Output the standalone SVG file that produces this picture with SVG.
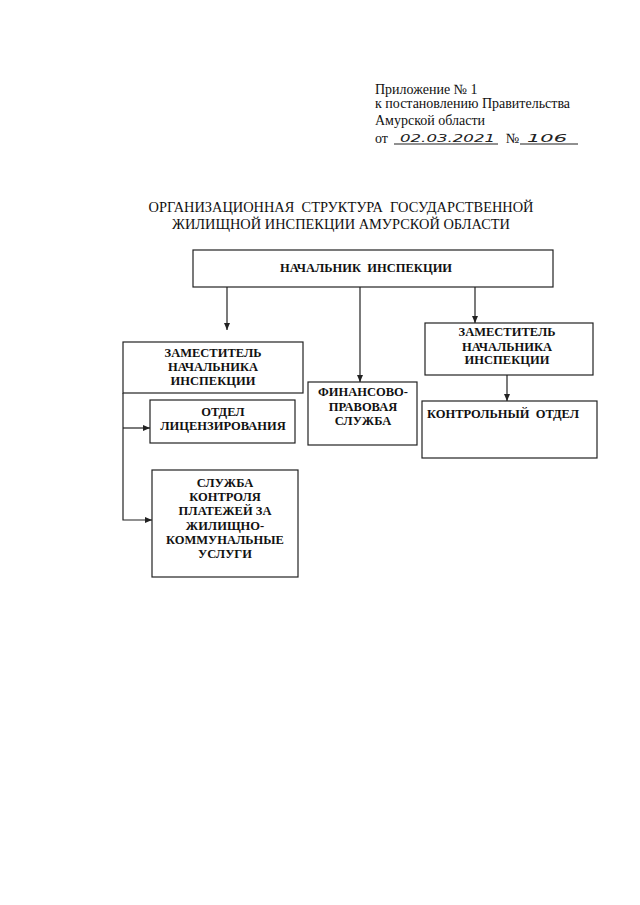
<svg xmlns="http://www.w3.org/2000/svg" width="640" height="905" viewBox="0 0 640 905">
<style>
.hdr{font-family:"Liberation Serif",serif;font-size:14px;fill:#111}
.ttl{font-family:"Liberation Serif",serif;font-size:14.4px;fill:#111;text-anchor:middle}
.hand{font-family:"DejaVu Sans",sans-serif;font-size:11px;font-style:italic;fill:#222}
.box{fill:#fff;stroke:#222;stroke-width:1.2}
.lbl{font-family:"Liberation Serif",serif;font-size:12.5px;font-weight:bold;fill:#111;text-anchor:middle}
.ln{stroke:#222;stroke-width:1.2;fill:none}
</style>
<defs>
<marker id="ah" markerWidth="8" markerHeight="8" refX="7" refY="4" orient="auto" markerUnits="userSpaceOnUse">
<path d="M0,1 L7,4 L0,7 Z" fill="#222"/>
</marker>
</defs>
<rect width="640" height="905" fill="#fff"/>
<g id="header">
<text class="hdr" x="375" y="94">Приложение № 1</text>
<text class="hdr" x="375" y="108">к постановлению Правительства</text>
<text class="hdr" x="375" y="125">Амурской области</text>
<text class="hdr" x="375" y="143">от</text>
<text class="hand" x="400" y="142" textLength="95" lengthAdjust="spacingAndGlyphs">02.03.2021</text>
<line class="ln" x1="394" y1="144" x2="498" y2="144" stroke-width="0.8"/>
<text class="hdr" x="506" y="143">№</text>
<text class="hand" x="527" y="142" textLength="40" lengthAdjust="spacingAndGlyphs">106</text>
<line class="ln" x1="520" y1="144" x2="578" y2="144" stroke-width="0.8"/>
</g>
<g id="title">
<text class="ttl" x="341" y="212" xml:space="preserve">ОРГАНИЗАЦИОННАЯ  СТРУКТУРА  ГОСУДАРСТВЕННОЙ</text>
<text class="ttl" x="341" y="229">ЖИЛИЩНОЙ ИНСПЕКЦИИ АМУРСКОЙ ОБЛАСТИ</text>
</g>
<g id="connectors">
<line class="ln" x1="227" y1="287" x2="227" y2="330" marker-end="url(#ah)"/>
<line class="ln" x1="360" y1="287" x2="360" y2="382" marker-end="url(#ah)"/>
<line class="ln" x1="475" y1="287" x2="475" y2="323" marker-end="url(#ah)"/>
<line class="ln" x1="507" y1="375" x2="507" y2="401" marker-end="url(#ah)"/>
<polyline class="ln" points="123,393 123,520 152,520" marker-end="url(#ah)"/>
<line class="ln" x1="123" y1="428" x2="150" y2="428" marker-end="url(#ah)"/>
</g>
<g id="head">
<rect class="box" x="193" y="250" width="360" height="37"/>
<text class="lbl" x="366" y="272" xml:space="preserve">НАЧАЛЬНИК  ИНСПЕКЦИИ</text>
</g>
<g id="deputy-left">
<rect class="box" x="123" y="342" width="180" height="51"/>
<text class="lbl" x="213" y="357">ЗАМЕСТИТЕЛЬ</text>
<text class="lbl" x="213" y="371">НАЧАЛЬНИКА</text>
<text class="lbl" x="213" y="385">ИНСПЕКЦИИ</text>
</g>
<g id="licensing">
<rect class="box" x="150" y="400" width="145" height="43"/>
<text class="lbl" x="223" y="416">ОТДЕЛ</text>
<text class="lbl" x="223" y="430">ЛИЦЕНЗИРОВАНИЯ</text>
</g>
<g id="payments">
<rect class="box" x="152" y="470" width="146" height="107"/>
<text class="lbl" x="225" y="487">СЛУЖБА</text>
<text class="lbl" x="225" y="501">КОНТРОЛЯ</text>
<text class="lbl" x="225" y="515">ПЛАТЕЖЕЙ ЗА</text>
<text class="lbl" x="225" y="530">ЖИЛИЩНО-</text>
<text class="lbl" x="225" y="544">КОММУНАЛЬНЫЕ</text>
<text class="lbl" x="225" y="558">УСЛУГИ</text>
</g>
<g id="finance">
<rect class="box" x="308" y="382" width="109" height="63"/>
<text class="lbl" x="363" y="396">ФИНАНСОВО-</text>
<text class="lbl" x="363" y="411">ПРАВОВАЯ</text>
<text class="lbl" x="363" y="425">СЛУЖБА</text>
</g>
<g id="deputy-right">
<rect class="box" x="425" y="323" width="168" height="52"/>
<text class="lbl" x="507" y="336">ЗАМЕСТИТЕЛЬ</text>
<text class="lbl" x="507" y="351">НАЧАЛЬНИКА</text>
<text class="lbl" x="507" y="364">ИНСПЕКЦИИ</text>
</g>
<g id="control">
<rect class="box" x="422" y="401" width="175" height="57"/>
<text class="lbl" x="503" y="418" xml:space="preserve">КОНТРОЛЬНЫЙ  ОТДЕЛ</text>
</g>
</svg>
